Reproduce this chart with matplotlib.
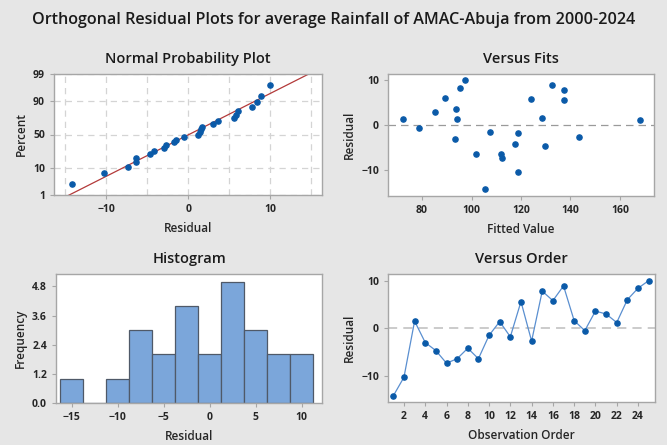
import matplotlib
matplotlib.use("Agg")
import matplotlib.pyplot as plt
import numpy as np
from statistics import NormalDist

# residuals in observation order (2000-2024) and their fitted values
order = list(range(1, 26))
residuals = [-14.2, -10.3, 1.5, -3.0, -4.7, -7.35, -6.4, -4.2, -6.4, -1.5,
             1.4, -1.8, 5.6, -2.7, 7.8, 5.8, 8.9, 1.6, -0.5, 3.6,
             3.0, 1.2, 6.0, 8.4, 10.0]
fitted = [105.4, 118.8, 94.0, 93.2, 129.8, 112.3, 101.6, 117.5, 111.8, 107.5,
          72.2, 118.6, 137.2, 143.5, 137.4, 123.9, 132.7, 128.5, 78.7, 93.6,
          85.3, 168.2, 89.4, 95.5, 97.3]

prob_ticks = [1, 10, 50, 90, 99]
hist_yticks = [0.0, 1.2, 2.4, 3.6, 4.8]

BG = "#e6e6e6"
DOT = "#0a5aa8"
FRAME = "#a6a6a6"
TXT = "#262626"

plt.rcParams["font.family"] = ["Open Sans", "DejaVu Sans"]

fig = plt.figure(figsize=(6.67, 4.45), dpi=100, facecolor=BG)
W, H = 667, 445


def make_ax(l, t, r, b):
    ax = fig.add_axes([l / W, 1 - b / H, (r - l) / W, (b - t) / H])
    ax.set_facecolor("white")
    for s in ax.spines.values():
        s.set_color(FRAME)
        s.set_linewidth(1.0)
    ax.tick_params(colors=FRAME, labelcolor=TXT, labelsize=7.5, length=3, width=0.8)
    return ax


def style(ax, title, xlabel, ylabel):
    ax.set_title(title, fontsize=10.5, color="#1a1a1a", pad=8, fontweight="semibold")
    ax.set_xlabel(xlabel, fontsize=8.5, color=TXT, labelpad=5, fontweight="semibold")
    ax.set_ylabel(ylabel, fontsize=8.5, color=TXT, labelpad=4, fontweight="semibold")
    for lab in ax.get_xticklabels() + ax.get_yticklabels():
        lab.set_fontweight("bold")


fig.text(0.5, 1 - 20 / H, "Orthogonal Residual Plots for average Rainfall of AMAC-Abuja from 2000-2024",
         ha="center", va="center", fontsize=11.6, color="#1a1a1a", fontweight="semibold")

nd = NormalDist()
res = np.array(residuals)
n = len(res)

# Normal probability plot
ax1 = make_ax(54, 74, 322, 195)
srt = np.sort(res)
pp = [(i - 0.3) / (n + 0.4) for i in range(1, n + 1)]
zq = [nd.inv_cdf(p) for p in pp]
mu, sd = res.mean(), res.std(ddof=1)
xl = np.array([-16.4, 16.3])
ax1.plot(xl, (xl - mu) / sd, color="#b33a3a", lw=0.9, zorder=2)
ax1.scatter(srt, zq, s=14, color=DOT, zorder=3)
ax1.set_xlim(-16.4, 16.3)
ax1.set_ylim(nd.inv_cdf(0.01), nd.inv_cdf(0.99))
ax1.set_yticks([nd.inv_cdf(p / 100) for p in prob_ticks])
ax1.set_yticklabels([str(p) for p in prob_ticks])
ax1.set_xticks([-10, 0, 10])
ax1.set_xticks([-15, -5, 5, 15], minor=True)
ax1.tick_params(which="minor", length=0)
ax1.grid(True, which="both", color="#d4d4d4", ls=(0, (5, 4)), lw=0.9)
ax1.set_axisbelow(True)
style(ax1, "Normal Probability Plot", "Residual", "Percent")

# Versus fits
ax2 = make_ax(388, 74, 654, 196)
ax2.axhline(0, color="#9a9a9a", ls=(0, (6, 4)), lw=0.9, zorder=1)
ax2.scatter(fitted, residuals, s=14, color=DOT, zorder=3)
ax2.set_xlim(66.2, 173.8)
ax2.set_ylim(-15.7, 11.4)
ax2.set_xticks([80, 100, 120, 140, 160])
ax2.set_yticks([-10, 0, 10])
style(ax2, "Versus Fits", "Fitted Value", "Residual")

# Histogram
ax3 = make_ax(56, 274, 322, 403)
edges = np.arange(-16.25, 11.3, 2.5)
ax3.hist(res, bins=edges, color="#7ba6da", edgecolor="#4f5968", linewidth=0.9)
ax3.set_xlim(-16.7, 12.2)
ax3.set_ylim(0, 5.31)
ax3.set_yticks(hist_yticks)
ax3.set_yticklabels([f"{v:.1f}" for v in hist_yticks])
ax3.set_xticks([-15, -10, -5, 0, 5, 10])
style(ax3, "Histogram", "Residual", "Frequency")

# Versus order
ax4 = make_ax(388, 274, 655, 402)
ax4.axhline(0, color="#bdbdbd", ls=(0, (6, 4)), lw=1.1, zorder=1)
ax4.plot(order, residuals, color="#5a8fd0", lw=0.9, zorder=2)
ax4.scatter(order, residuals, s=14, color=DOT, zorder=3)
ax4.set_xlim(0.5, 25.6)
ax4.set_ylim(-15.5, 11.4)
ax4.set_xticks(range(2, 25, 2))
ax4.set_yticks([-10, 0, 10])
style(ax4, "Versus Order", "Observation Order", "Residual")

fig.savefig("out.png", dpi=100, facecolor=BG)
